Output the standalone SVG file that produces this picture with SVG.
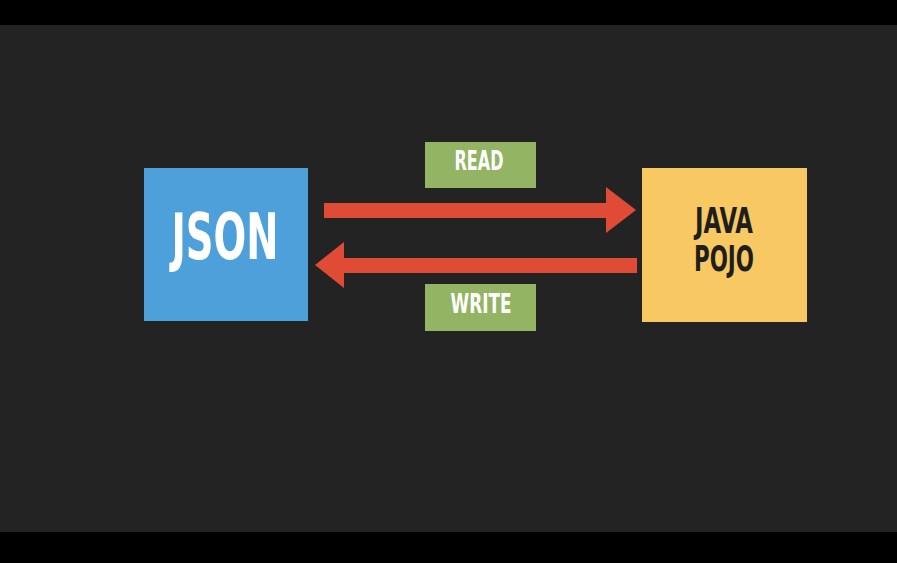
<svg xmlns="http://www.w3.org/2000/svg" width="897" height="563" viewBox="0 0 897 563">
<style>
.lbl{font-family:"DejaVu Sans Condensed","DejaVu Sans","Liberation Sans",sans-serif;font-weight:bold;text-anchor:middle}
.w{fill:#FFFFFF}
.d{fill:#1E1E1E}
.arrow{fill:#E04B35}
.tag{fill:#93B463}
</style>
<rect x="0" y="0" width="897" height="563" fill="#232323"/>
<rect x="0" y="0" width="897" height="25" fill="#000000"/>
<rect x="0" y="532" width="897" height="31" fill="#000000"/>
<g id="json">
<rect x="144" y="168" width="164" height="153" fill="#4EA0DB"/>
<text class="lbl w" x="225" y="259" font-size="64" textLength="107" lengthAdjust="spacingAndGlyphs">JSON</text>
</g>
<g id="pojo">
<rect x="642" y="168" width="165" height="154" fill="#F8C862"/>
<text class="lbl d" x="724" y="233" font-size="35" textLength="58" lengthAdjust="spacingAndGlyphs">JAVA</text>
<text class="lbl d" x="724" y="271" font-size="35" textLength="60" lengthAdjust="spacingAndGlyphs">POJO</text>
</g>
<g id="read">
<rect class="tag" x="425" y="142" width="111" height="46"/>
<text class="lbl w" x="479" y="170" font-size="26" textLength="49" lengthAdjust="spacingAndGlyphs">READ</text>
</g>
<g id="write">
<rect class="tag" x="425" y="284" width="111" height="47"/>
<text class="lbl w" x="481" y="313" font-size="26" textLength="61" lengthAdjust="spacingAndGlyphs">WRITE</text>
</g>
<g id="connectors">
<polygon class="arrow" points="324,203 606,203 606,187 636,210 606,233 606,218 324,218"/>
<polygon class="arrow" points="637,258 344,258 344,242 315,265 344,288 344,273 637,273"/>
</g>
</svg>
